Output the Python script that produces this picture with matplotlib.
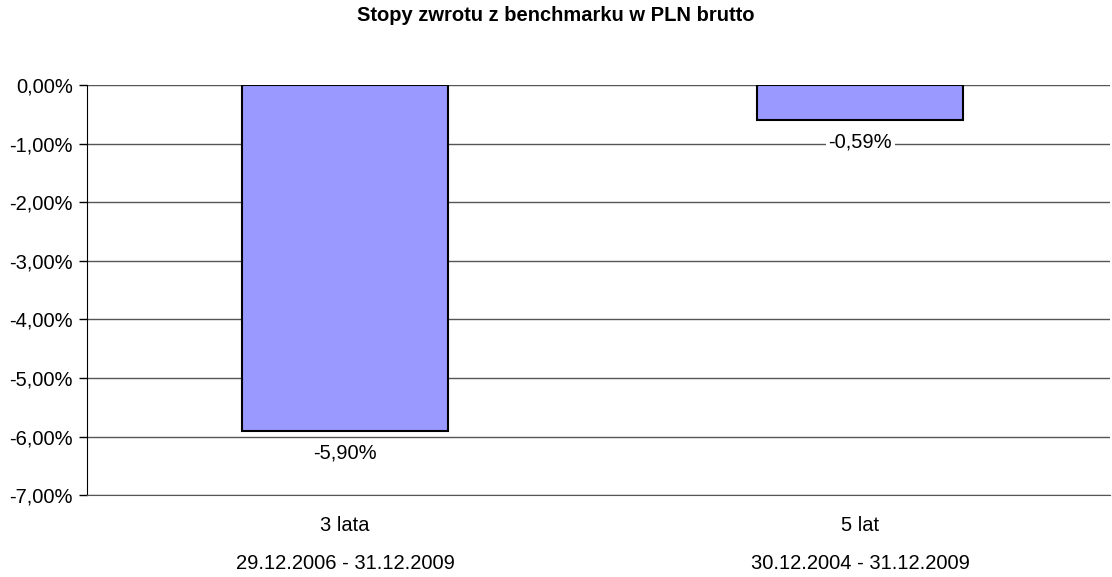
import matplotlib
matplotlib.use("Agg")
import matplotlib.pyplot as plt
import numpy as np

plt.rcParams['font.family'] = ['Liberation Sans', 'DejaVu Sans']

# data
categories = ["3 lata", "5 lat"]
periods = ["29.12.2006 - 31.12.2009", "30.12.2004 - 31.12.2009"]
returns = [-5.90, -0.59]

fs = 14.5

fig = plt.figure(figsize=(11.12, 5.77), dpi=100)
ax = fig.add_axes([0.0782, 0.142, 0.92, 0.7105])

x = np.arange(len(categories))
ax.bar(x, returns, width=0.4, color="#9999FF", edgecolor="black", linewidth=1.5, zorder=3)

# data labels under the bars
for xi, v in zip(x, returns):
    ax.annotate(f"{v:.2f}%".replace(".", ","), (xi, v), xytext=(0, -9),
                textcoords="offset points", ha="center", va="top", fontsize=fs,
                bbox=dict(facecolor="white", edgecolor="none", pad=2), zorder=4)

ax.set_ylim(-7, 0)
ax.set_xlim(-0.501, 1.485)
yt = np.arange(0, -8, -1)
ax.set_yticks(yt)
ax.set_yticklabels([f"{t:.2f}%".replace(".", ",") for t in yt], fontsize=fs)
ax.set_xticks(x)
ax.set_xticklabels([f"{c}\n{p}" for c, p in zip(categories, periods)], fontsize=fs,
                   linespacing=2.3)
ax.tick_params(axis="x", length=0, pad=15)
ax.tick_params(axis="y", length=6, width=1, color="black", pad=4)

ax.grid(axis="y", color="#555555", linewidth=1, zorder=0)
for s in ["top", "right"]:
    ax.spines[s].set_visible(False)
ax.spines["bottom"].set_color("#555555")
ax.spines["left"].set_color("black")

fig.text(0.5, 0.973, "Stopy zwrotu z benchmarku w PLN brutto", ha="center", va="center",
         fontsize=fs, fontweight="bold")

fig.savefig("out.png", dpi=100)
